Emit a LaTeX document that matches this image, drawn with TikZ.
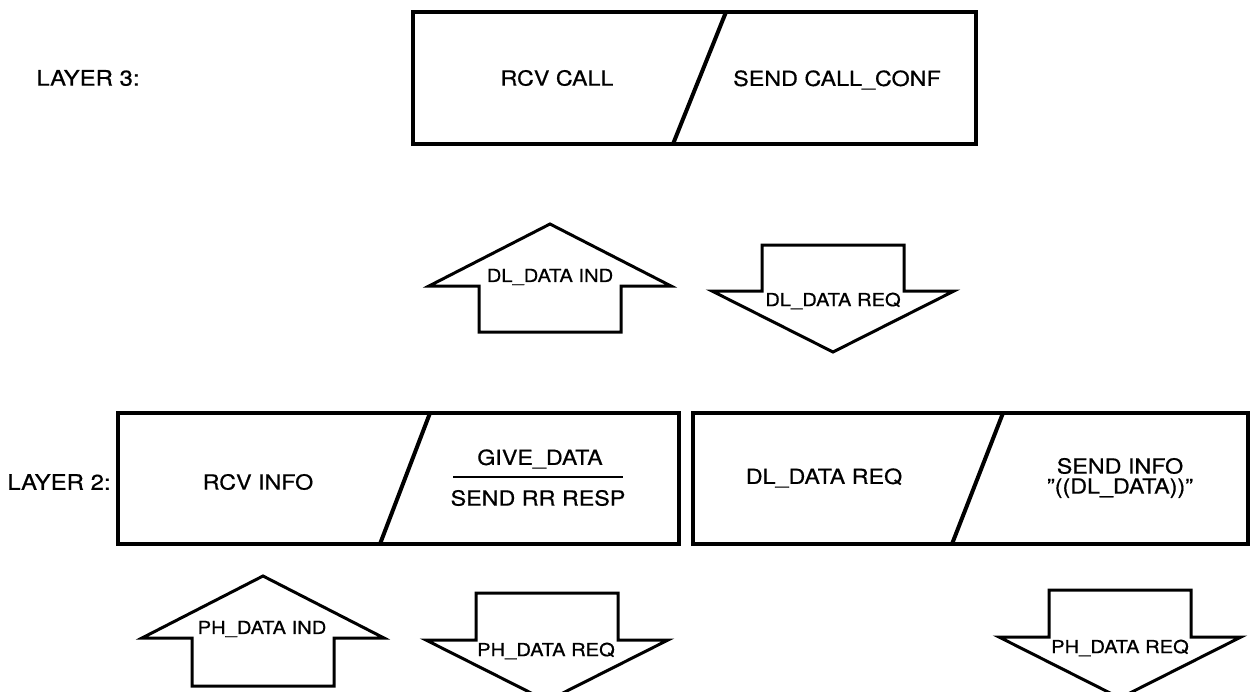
\documentclass[tikz,border=0pt]{standalone}
\usepackage{fontspec}
\setmainfont[FakeStretch=1.12,FakeBold=0.6]{TeX Gyre Heros}

\begin{document}
\begin{tikzpicture}
[x=0.5pt,y=-0.5pt,line join=miter,%
  every node/.style={inner sep=0pt,font=\fontsize{10.4}{10}\selectfont},%
  frame/.style={line width=2pt},%
  prim/.style={line width=1.5pt},%
  small/.style={font=\fontsize{9}{10}\selectfont},%
  layer/.style={anchor=west,font=\fontsize{10.7}{12}\selectfont}]
\useasboundingbox (0,0) rectangle (1250,692);
% layer 3
\node[layer] (l3) at (36,78) {LAYER 3:};
\draw[frame] (413,12) rectangle (976,144);
\draw[frame] (726,12) -- (673,144);
\node (rcvcall) at (557,78) {RCV CALL};
\node (sendconf) at (837,80) {SEND CALL\_CONF};
% between layer 3 and layer 2
\draw[prim] (550,224) -- (671,286) -- (621,286) -- (621,332)
  -- (479,332) -- (479,286) -- (429,286) -- cycle;
\node[small] (dlind) at (550,277) {DL\_DATA IND};
\draw[prim] (833,352) -- (954,291) -- (904,291) -- (904,245)
  -- (762,245) -- (762,291) -- (712,291) -- cycle;
\node[small] (dlreq) at (833,301) {DL\_DATA REQ};
% layer 2
\node[layer] (l2) at (7,482) {LAYER 2:};
\draw[frame] (118,413) rectangle (679,544);
\draw[frame] (430,413) -- (380,544);
\node (rcvinfo) at (258,482) {RCV INFO};
\node (givedata) at (540,459) {GIVE\_DATA};
\node (rrresp) at (538,498) {SEND RR RESP};
\draw[line width=1pt] (453,477) -- (623,477);
\draw[frame] (693,413) rectangle (1248,544);
\draw[frame] (1003,413) -- (952,544);
\node (dlreqbox) at (824,478) {DL\_DATA REQ};
\node[align=center] (sendinfo) at (1120,478) {SEND INFO\\"((DL\_DATA))"};
% below layer 2
\draw[prim] (263,576) -- (384,638) -- (334,638) -- (334,686)
  -- (192,686) -- (192,638) -- (142,638) -- cycle;
\node[small] (phind) at (262,629) {PH\_DATA IND};
\draw[prim] (547,701) -- (668,640) -- (618,640) -- (618,593)
  -- (476,593) -- (476,640) -- (426,640) -- cycle;
\node[small] (phreqa) at (546,651) {PH\_DATA REQ};
\draw[prim] (1120,698) -- (1241,637) -- (1191,637) -- (1191,590)
  -- (1049,590) -- (1049,637) -- (999,637) -- cycle;
\node[small] (phreqb) at (1120,648) {PH\_DATA REQ};
\end{tikzpicture}
\end{document}
